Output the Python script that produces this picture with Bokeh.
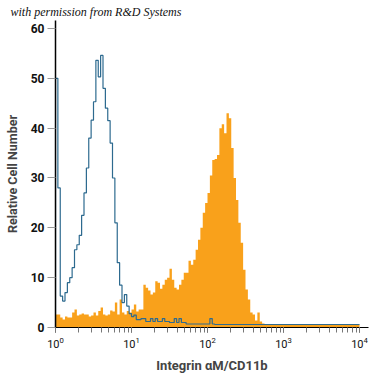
import numpy as np
from bokeh.plotting import figure
from bokeh.models import Range1d, Title, FixedTicker
from bokeh.embed import file_html
from bokeh.resources import INLINE

# histogram bins: 32 per decade from 10^0 to 10^4 (log10 of left edges = i/32)
bins_per_decade = 32
n_bins = 128

# Integrin alphaM/CD11b stained cells (filled orange)
stained_counts = [
    2.6, 2.6, 2.0, 1.6, 2.2, 2.0, 2.0, 3.0, 3.6, 2.4,
    2.6, 2.8, 2.6, 2.6, 2.2, 2.4, 3.0, 2.4, 3.3, 4.0,
    2.6, 2.4, 2.6, 3.4, 3.2, 5.0, 2.6, 5.6, 3.0, 2.6,
    3.3, 3.0, 3.6, 4.6, 3.2, 3.6, 3.6, 8.6, 8.0, 7.4,
    6.6, 7.0, 9.3, 9.0, 7.8, 8.6, 9.6, 10.0, 11.8, 9.6,
    8.0, 7.6, 8.6, 9.6, 11.0, 11.0, 13.4, 12.6, 13.6, 15.6,
    17.6, 20.0, 23.0, 25.0, 27.0, 30.5, 33.6, 33.8, 34.6, 40.0,
    40.8, 39.0, 43.0, 42.0, 36.0, 30.0, 25.6, 21.0, 17.0, 11.6,
    7.6, 5.6, 3.0, 2.6, 1.4, 3.0, 1.2, 0.8, 0.6, 0.6,
    0.6, 0.6, 0.6, 0.6, 0.6, 0.6, 0.6, 0.6, 0.6, 0.6,
    0.6, 0.6, 0.6, 0.6, 0.6, 0.6, 0.6, 0.6, 0.6, 0.6,
    0.6, 0.6, 0.6, 0.6, 0.6, 0.6, 0.6, 0.6, 0.6, 0.6,
    0.6, 0.6, 0.6, 0.6, 0.6, 0.6, 0.6, 0.6,
]

# isotype control (open blue outline)
isotype_counts = [
    50.0, 28.0, 6.3, 5.3, 7.0, 9.0, 10.0, 12.0, 15.6, 16.6,
    18.5, 22.5, 27.0, 32.0, 38.0, 41.6, 45.3, 53.6, 50.3, 54.6,
    48.0, 44.0, 41.5, 37.0, 30.0, 21.0, 13.0, 8.5, 5.0, 6.6,
    4.3, 2.8, 2.2, 2.5, 1.6, 1.6, 1.8, 1.8, 1.2, 1.2,
    1.8, 1.2, 1.8, 1.2, 1.2, 1.8, 1.2, 1.2, 1.0, 1.0,
    1.8, 1.0, 1.8, 1.0, 1.0, 0.7, 0.7, 0.7, 0.7, 0.7,
    0.7, 0.7, 0.7, 0.7, 0.7, 1.8, 0.7, 0.6, 0.6, 0.6,
    0.6, 0.6, 0.6, 0.6, 0.6, 0.6, 0.6, 0.6, 0.6, 0.6,
    0.6, 0.6, 0.6, 0.6, 0.6, 0.6, 0.6, 0.6, 0.6, 0.6,
    0.6, 0.6, 0.6, 0.6, 0.6, 0.6, 0.6, 0.6, 0.6, 0.6,
    0.6, 0.6, 0.6, 0.6, 0.6, 0.6, 0.6, 0.6, 0.6, 0.6,
    0.6, 0.6, 0.6, 0.6, 0.6, 0.6, 0.6, 0.6, 0.6, 0.6,
    0.6, 0.6, 0.6, 0.6, 0.6, 0.6, 0.6, 0.6,
]

y_ticks = [0, 10, 20, 30, 40, 50, 60]

edges = 10 ** (np.arange(n_bins + 1) / bins_per_decade)

p = figure(width=375, height=375, x_axis_type="log",
           output_backend="svg", toolbar_location=None,
           x_range=Range1d(1, 10 ** (4 + 9 / 76)),
           y_range=Range1d(0, 61.6))

st = np.array(stained_counts)
p.varea_step(x=edges, y1=np.zeros(len(edges)),
             y2=np.concatenate([st, st[-1:]]), step_mode="after",
             fill_color="#F9A11B")

iso = np.array(isotype_counts)
xs = np.concatenate([[edges[0]], np.repeat(edges, 2)[1:-1]])
ys = np.concatenate([[0], np.repeat(iso, 2)])
p.line(xs, ys, line_color="#2d6a8f", line_width=1.2)

p.title = Title(text="with permission from R&D Systems", align="left",
                text_font="Liberation Serif", text_font_style="italic",
                text_font_size="12px", text_color="#111111", offset=-45,
                standoff=4)

p.grid.visible = False
p.outline_line_color = None
p.min_border_left = 55
p.min_border_right = 7
p.min_border_top = 6
p.min_border_bottom = 40
p.background_fill_color = "white"

font = "Roboto"

p.yaxis.ticker = FixedTicker(ticks=y_ticks)
p.yaxis.axis_label = "Relative Cell Number"
p.yaxis.axis_label_text_font = font
p.yaxis.axis_label_text_font_style = "bold"
p.yaxis.axis_label_text_font_size = "12.5px"
p.yaxis.axis_label_standoff = 8
p.yaxis.major_label_text_font = font
p.yaxis.major_label_text_font_style = "bold"
p.yaxis.major_label_text_font_size = "12px"
p.yaxis.major_label_text_color = "#111111"
p.yaxis.major_label_standoff = 3
p.yaxis.axis_line_color = "black"
p.yaxis.axis_line_width = 1.5
p.yaxis.major_tick_line_color = "#999999"
p.yaxis.major_tick_out = 8
p.yaxis.major_tick_in = 0
p.yaxis.minor_tick_line_color = None

p.xaxis.ticker.desired_num_ticks = 5
p.xaxis.axis_label = "Integrin \u03b1M/CD11b"
p.xaxis.axis_label_text_font = font
p.xaxis.axis_label_text_font_style = "bold"
p.xaxis.axis_label_text_font_size = "13px"
p.xaxis.axis_label_standoff = 7
p.xaxis.major_label_text_font = font
p.xaxis.major_label_text_font_size = "11px"
p.xaxis.major_label_text_color = "#111111"
p.xaxis.major_label_standoff = 4
p.xaxis.axis_line_color = "black"
p.xaxis.axis_line_width = 1
p.xaxis.major_tick_line_color = "#777777"
p.xaxis.major_tick_out = 5
p.xaxis.major_tick_in = 0
p.xaxis.minor_tick_line_color = "#777777"
p.xaxis.minor_tick_out = 5
p.xaxis.minor_tick_in = 0

open("out.html", "w").write(file_html(p, INLINE))
